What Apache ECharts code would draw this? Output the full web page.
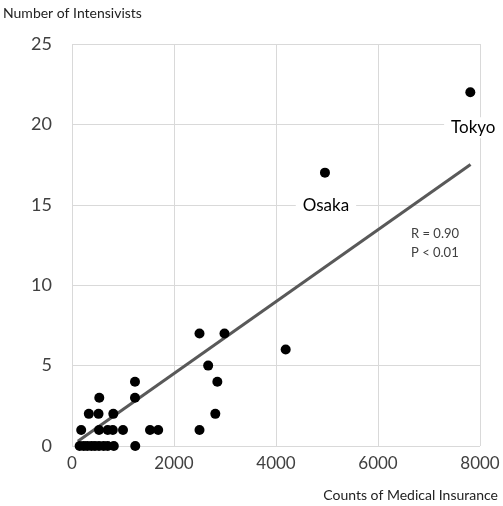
<!DOCTYPE html>
<html>
<head>
<meta charset="utf-8">
<script src="https://cdn.jsdelivr.net/npm/echarts@6/dist/echarts.min.js"></script>
<style>html,body{margin:0;padding:0;background:#fff}#c{width:503px;height:506px}</style>
</head>
<body>
<div id="c"></div>
<script>
var prefXs = [150,230,300,380,450,530,620,700,820,1240, 180,530,700,800,1000,1530,1690,2500, 330,520,810,2810, 535,1235, 1235,2850, 2670, 4190, 2500,2990, 4960, 7810];
var intensivists = [0,0,0,0,0,0,0,0,0,0, 1,1,1,1,1,1,1,1, 2,2,2,2, 3,3, 4,4, 5, 6, 7,7, 17, 22];
var pointNames = ['','','','','','','','','','', '','','','','','','','', '','','','', '','', '','', '', '', '','', 'Osaka', 'Tokyo'];
var fitX = [115, 7815];
var fitY = [0.3, 17.5];
var xTicks = [0, 2000, 4000, 6000, 8000];
var yTicks = [0, 5, 10, 15, 20, 25];
var statsText = ['R = 0.90', 'P < 0.01'];

var FONT = 'Lato, "Open Sans", sans-serif';
var chart = echarts.init(document.getElementById('c'));
var pts = prefXs.map(function (x, i) {
  var d = { value: [x, intensivists[i]] };
  if (pointNames[i]) {
    d.label = {
      show: true, formatter: pointNames[i], position: 'bottom',
      distance: pointNames[i] === 'Tokyo' ? 20 : 17,
      offset: pointNames[i] === 'Tokyo' ? [3, 0] : [1, 0],
      color: '#000', fontSize: 17, fontFamily: FONT,
      backgroundColor: '#fff', padding: [2, 7]
    };
  }
  return d;
});
chart.setOption({
  animation: false,
  backgroundColor: '#fff',
  grid: { left: 71, right: 23, top: 44, bottom: 60 },
  xAxis: {
    type: 'value', min: xTicks[0], max: xTicks[xTicks.length - 1], interval: 2000,
    name: 'Counts of Medical Insurance', nameLocation: 'end',
    nameGap: 0,
    nameTextStyle: { fontSize: 14, color: '#222', fontFamily: FONT, align: 'right', verticalAlign: 'top', padding: [42, -18, 0, 0] },
    axisLine: { show: false }, axisTick: { show: false },
    axisLabel: { fontSize: 17, color: '#404040', fontFamily: FONT, margin: 9, formatter: function (v) { return String(v); } },
    splitLine: { show: true, lineStyle: { color: '#d9d9d9', width: 1 } }
  },
  yAxis: {
    type: 'value', min: yTicks[0], max: yTicks[yTicks.length - 1], interval: 5,
    name: 'Number of Intensivists', nameLocation: 'end',
    nameGap: 24,
    nameTextStyle: { fontSize: 14, color: '#222', fontFamily: FONT, align: 'left', padding: [0, 0, 0, -69] },
    axisLine: { show: false }, axisTick: { show: false },
    axisLabel: { fontSize: 18, color: '#404040', fontFamily: FONT, margin: 20 },
    splitLine: { show: true, lineStyle: { color: '#d9d9d9', width: 1 } }
  },
  graphic: [
    { type: 'text', left: 411, top: 224, style: { text: statsText.join('\n'), fontSize: 13, lineHeight: 19, fill: '#404040', fontFamily: FONT } }
  ],
  series: [
    {
      type: 'line', data: [[fitX[0], fitY[0]], [fitX[1], fitY[1]]],
      showSymbol: false, symbol: 'none', z: 3,
      lineStyle: { color: '#595959', width: 3 }
    },
    {
      type: 'scatter', data: pts, symbolSize: 10, z: 4,
      itemStyle: { color: '#000', opacity: 1 }
    }
  ]
});
</script>
</body>
</html>
